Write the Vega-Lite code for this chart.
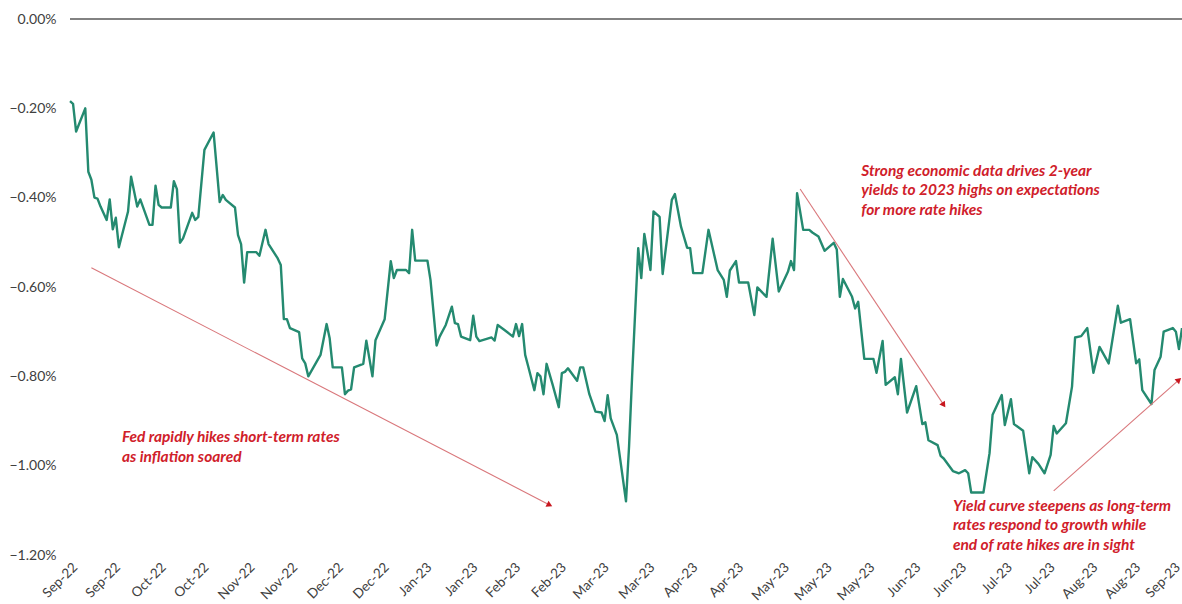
{
  "$schema": "https://vega.github.io/schema/vega-lite/v6.json",
  "width": 1112,
  "height": 536,
  "autosize": {"type": "none"},
  "padding": {"left": 70, "top": 19, "right": 0, "bottom": 49},
  "background": "white",
  "config": {"view": {"stroke": null}},
  "datasets": {
    "series": [
      {"date":"2022-09-12","spread":-0.184},{"date":"2022-09-13","spread":-0.19},{"date":"2022-09-14","spread":-0.252},{"date":"2022-09-17","spread":-0.20},{"date":"2022-09-18","spread":-0.342},{"date":"2022-09-19","spread":-0.36},{"date":"2022-09-20","spread":-0.40},{"date":"2022-09-21","spread":-0.402},{"date":"2022-09-22","spread":-0.42},{"date":"2022-09-24","spread":-0.45},{"date":"2022-09-25","spread":-0.404},{"date":"2022-09-26","spread":-0.471},{"date":"2022-09-27","spread":-0.445},{"date":"2022-09-28","spread":-0.511},
      {"date":"2022-10-01","spread":-0.431},{"date":"2022-10-02","spread":-0.353},{"date":"2022-10-04","spread":-0.42},{"date":"2022-10-05","spread":-0.404},{"date":"2022-10-08","spread":-0.461},{"date":"2022-10-09","spread":-0.461},{"date":"2022-10-10","spread":-0.373},{"date":"2022-10-11","spread":-0.416},{"date":"2022-10-12","spread":-0.422},{"date":"2022-10-15","spread":-0.422},{"date":"2022-10-16","spread":-0.363},{"date":"2022-10-17","spread":-0.381},{"date":"2022-10-18","spread":-0.501},{"date":"2022-10-19","spread":-0.491},{"date":"2022-10-22","spread":-0.434},{"date":"2022-10-23","spread":-0.45},{"date":"2022-10-24","spread":-0.443},{"date":"2022-10-26","spread":-0.293},{"date":"2022-10-29","spread":-0.254},{"date":"2022-10-31","spread":-0.41},
      {"date":"2022-11-01","spread":-0.394},{"date":"2022-11-02","spread":-0.405},{"date":"2022-11-05","spread":-0.422},{"date":"2022-11-06","spread":-0.484},{"date":"2022-11-07","spread":-0.504},{"date":"2022-11-08","spread":-0.59},{"date":"2022-11-09","spread":-0.522},{"date":"2022-11-12","spread":-0.522},{"date":"2022-11-13","spread":-0.53},{"date":"2022-11-15","spread":-0.472},{"date":"2022-11-16","spread":-0.504},{"date":"2022-11-19","spread":-0.536},{"date":"2022-11-20","spread":-0.551},{"date":"2022-11-21","spread":-0.672},{"date":"2022-11-22","spread":-0.672},{"date":"2022-11-23","spread":-0.692},{"date":"2022-11-26","spread":-0.701},{"date":"2022-11-27","spread":-0.76},{"date":"2022-11-28","spread":-0.771},{"date":"2022-11-29","spread":-0.80},
      {"date":"2022-12-03","spread":-0.752},{"date":"2022-12-05","spread":-0.683},{"date":"2022-12-06","spread":-0.715},{"date":"2022-12-07","spread":-0.78},{"date":"2022-12-10","spread":-0.78},{"date":"2022-12-11","spread":-0.84},{"date":"2022-12-12","spread":-0.832},{"date":"2022-12-13","spread":-0.829},{"date":"2022-12-14","spread":-0.78},{"date":"2022-12-17","spread":-0.772},{"date":"2022-12-18","spread":-0.72},{"date":"2022-12-20","spread":-0.80},{"date":"2022-12-21","spread":-0.719},{"date":"2022-12-24","spread":-0.672},{"date":"2022-12-26","spread":-0.542},{"date":"2022-12-27","spread":-0.58},{"date":"2022-12-28","spread":-0.562},{"date":"2022-12-31","spread":-0.562},
      {"date":"2023-01-01","spread":-0.569},{"date":"2023-01-02","spread":-0.472},{"date":"2023-01-03","spread":-0.541},{"date":"2023-01-07","spread":-0.541},{"date":"2023-01-08","spread":-0.584},{"date":"2023-01-10","spread":-0.731},{"date":"2023-01-11","spread":-0.711},{"date":"2023-01-13","spread":-0.685},{"date":"2023-01-15","spread":-0.644},{"date":"2023-01-16","spread":-0.681},{"date":"2023-01-17","spread":-0.683},{"date":"2023-01-18","spread":-0.711},{"date":"2023-01-21","spread":-0.719},{"date":"2023-01-22","spread":-0.664},{"date":"2023-01-23","spread":-0.711},{"date":"2023-01-24","spread":-0.721},{"date":"2023-01-28","spread":-0.713},{"date":"2023-01-29","spread":-0.72},{"date":"2023-01-30","spread":-0.685},{"date":"2023-01-31","spread":-0.69},
      {"date":"2023-02-01","spread":-0.695},{"date":"2023-02-04","spread":-0.711},{"date":"2023-02-05","spread":-0.683},{"date":"2023-02-06","spread":-0.71},{"date":"2023-02-07","spread":-0.683},{"date":"2023-02-08","spread":-0.752},{"date":"2023-02-09","spread":-0.778},{"date":"2023-02-11","spread":-0.831},{"date":"2023-02-12","spread":-0.793},{"date":"2023-02-13","spread":-0.80},{"date":"2023-02-14","spread":-0.84},{"date":"2023-02-15","spread":-0.772},{"date":"2023-02-17","spread":-0.819},{"date":"2023-02-19","spread":-0.869},{"date":"2023-02-20","spread":-0.793},{"date":"2023-02-21","spread":-0.79},{"date":"2023-02-22","spread":-0.782},{"date":"2023-02-25","spread":-0.81},{"date":"2023-02-26","spread":-0.78},{"date":"2023-02-27","spread":-0.78},
      {"date":"2023-03-01","spread":-0.84},{"date":"2023-03-03","spread":-0.879},{"date":"2023-03-05","spread":-0.881},{"date":"2023-03-06","spread":-0.90},{"date":"2023-03-07","spread":-0.842},{"date":"2023-03-08","spread":-0.894},{"date":"2023-03-10","spread":-0.931},{"date":"2023-03-12","spread":-1.03},{"date":"2023-03-13","spread":-1.08},{"date":"2023-03-14","spread":-0.957},{"date":"2023-03-15","spread":-0.80},{"date":"2023-03-17","spread":-0.513},{"date":"2023-03-18","spread":-0.58},{"date":"2023-03-19","spread":-0.481},{"date":"2023-03-21","spread":-0.562},{"date":"2023-03-22","spread":-0.431},{"date":"2023-03-24","spread":-0.443},{"date":"2023-03-25","spread":-0.571},{"date":"2023-03-28","spread":-0.405},{"date":"2023-03-29","spread":-0.392},{"date":"2023-03-31","spread":-0.465},
      {"date":"2023-04-02","spread":-0.512},{"date":"2023-04-03","spread":-0.513},{"date":"2023-04-04","spread":-0.569},{"date":"2023-04-07","spread":-0.569},{"date":"2023-04-09","spread":-0.472},{"date":"2023-04-12","spread":-0.562},{"date":"2023-04-14","spread":-0.584},{"date":"2023-04-15","spread":-0.622},{"date":"2023-04-16","spread":-0.563},{"date":"2023-04-18","spread":-0.542},{"date":"2023-04-19","spread":-0.59},{"date":"2023-04-22","spread":-0.59},{"date":"2023-04-24","spread":-0.663},{"date":"2023-04-25","spread":-0.601},{"date":"2023-04-28","spread":-0.622},{"date":"2023-04-30","spread":-0.492},
      {"date":"2023-05-02","spread":-0.61},{"date":"2023-05-05","spread":-0.566},{"date":"2023-05-06","spread":-0.542},{"date":"2023-05-07","spread":-0.562},{"date":"2023-05-08","spread":-0.39},{"date":"2023-05-10","spread":-0.472},{"date":"2023-05-12","spread":-0.472},{"date":"2023-05-13","spread":-0.478},{"date":"2023-05-15","spread":-0.487},{"date":"2023-05-17","spread":-0.519},{"date":"2023-05-20","spread":-0.501},{"date":"2023-05-21","spread":-0.516},{"date":"2023-05-22","spread":-0.622},{"date":"2023-05-23","spread":-0.582},{"date":"2023-05-26","spread":-0.622},{"date":"2023-05-27","spread":-0.648},{"date":"2023-05-28","spread":-0.633},{"date":"2023-05-30","spread":-0.761},
      {"date":"2023-06-02","spread":-0.761},{"date":"2023-06-03","spread":-0.792},{"date":"2023-06-05","spread":-0.721},{"date":"2023-06-06","spread":-0.819},{"date":"2023-06-09","spread":-0.802},{"date":"2023-06-10","spread":-0.84},{"date":"2023-06-11","spread":-0.761},{"date":"2023-06-13","spread":-0.881},{"date":"2023-06-16","spread":-0.822},{"date":"2023-06-18","spread":-0.907},{"date":"2023-06-19","spread":-0.903},{"date":"2023-06-20","spread":-0.943},{"date":"2023-06-23","spread":-0.954},{"date":"2023-06-24","spread":-0.978},{"date":"2023-06-25","spread":-0.984},{"date":"2023-06-28","spread":-1.012},{"date":"2023-06-30","spread":-1.017},
      {"date":"2023-07-02","spread":-1.01},{"date":"2023-07-03","spread":-1.017},{"date":"2023-07-04","spread":-1.06},{"date":"2023-07-08","spread":-1.06},{"date":"2023-07-10","spread":-0.972},{"date":"2023-07-11","spread":-0.886},{"date":"2023-07-14","spread":-0.842},{"date":"2023-07-15","spread":-0.909},{"date":"2023-07-17","spread":-0.851},{"date":"2023-07-18","spread":-0.907},{"date":"2023-07-21","spread":-0.922},{"date":"2023-07-23","spread":-1.017},{"date":"2023-07-24","spread":-0.981},{"date":"2023-07-26","spread":-0.996},{"date":"2023-07-28","spread":-1.017},{"date":"2023-07-30","spread":-0.976},{"date":"2023-07-31","spread":-0.911},
      {"date":"2023-08-01","spread":-0.928},{"date":"2023-08-04","spread":-0.905},{"date":"2023-08-06","spread":-0.823},{"date":"2023-08-07","spread":-0.713},{"date":"2023-08-09","spread":-0.71},{"date":"2023-08-11","spread":-0.692},{"date":"2023-08-13","spread":-0.792},{"date":"2023-08-15","spread":-0.734},{"date":"2023-08-18","spread":-0.771},{"date":"2023-08-21","spread":-0.642},{"date":"2023-08-22","spread":-0.68},{"date":"2023-08-25","spread":-0.672},{"date":"2023-08-27","spread":-0.771},{"date":"2023-08-28","spread":-0.762},{"date":"2023-08-29","spread":-0.831},
      {"date":"2023-09-01","spread":-0.862},{"date":"2023-09-02","spread":-0.786},{"date":"2023-09-04","spread":-0.756},{"date":"2023-09-05","spread":-0.70},{"date":"2023-09-08","spread":-0.692},{"date":"2023-09-09","spread":-0.70},{"date":"2023-09-10","spread":-0.739},{"date":"2023-09-11","spread":-0.692}
    ],
    "notes": [
      {"date":"2022-09-29","value":-0.921,"label":"Fed rapidly hikes short-term rates\nas inflation soared"},
      {"date":"2023-05-29","value":-0.324,"label":"Strong economic data drives 2-year\nyields to 2023 highs on expectations\nfor more rate hikes"},
      {"date":"2023-06-28","value":-1.074,"label":"Yield curve steepens as long-term\nrates respond  to growth while\nend of rate hikes are in sight"}
    ],
    "arrows": [
      {"arrow":"a1","start":"2022-09-19","from":-0.557,"end":"2023-02-16","to":-1.088},
      {"arrow":"a2","start":"2023-05-09","from":-0.3806,"end":"2023-06-25","to":-0.864},
      {"arrow":"a3","start":"2023-07-31","from":-1.0566,"end":"2023-09-10","to":-0.808}
    ]
  },
  "layer": [
    {
      "data": {"values": [{}]},
      "mark": {"type": "rule", "color": "#595959", "strokeWidth": 1.5},
      "encoding": {"y": {"datum": 0, "type": "quantitative"}}
    },
    {
      "data": {"name": "series"},
      "mark": {"type": "line", "color": "#248a70", "strokeWidth": 2.4, "strokeJoin": "round"},
      "encoding": {
        "x": {
          "field": "date", "type": "temporal",
          "scale": {"type": "utc", "domain": [{"year": 2022, "month": "September", "date": 12, "utc": true}, {"year": 2023, "month": "September", "date": 11, "utc": true}]},
          "axis": {
            "title": null, "grid": false, "domain": false, "ticks": false,
            "values": [
              {"year":2022,"month":"September","date":12,"utc":true},{"year":2022,"month":"September","date":26,"utc":true},
              {"year":2022,"month":"October","date":11,"utc":true},{"year":2022,"month":"October","date":25,"utc":true},
              {"year":2022,"month":"November","date":9,"utc":true},{"year":2022,"month":"November","date":23,"utc":true},
              {"year":2022,"month":"December","date":8,"utc":true},{"year":2022,"month":"December","date":23,"utc":true},
              {"year":2023,"month":"January","date":6,"utc":true},{"year":2023,"month":"January","date":21,"utc":true},
              {"year":2023,"month":"February","date":4,"utc":true},{"year":2023,"month":"February","date":19,"utc":true},
              {"year":2023,"month":"March","date":5,"utc":true},{"year":2023,"month":"March","date":20,"utc":true},
              {"year":2023,"month":"April","date":3,"utc":true},{"year":2023,"month":"April","date":18,"utc":true},
              {"year":2023,"month":"May","date":3,"utc":true},{"year":2023,"month":"May","date":17,"utc":true},{"year":2023,"month":"May","date":31,"utc":true},
              {"year":2023,"month":"June","date":15,"utc":true},{"year":2023,"month":"June","date":30,"utc":true},
              {"year":2023,"month":"July","date":15,"utc":true},{"year":2023,"month":"July","date":29,"utc":true},
              {"year":2023,"month":"August","date":12,"utc":true},{"year":2023,"month":"August","date":26,"utc":true},
              {"year":2023,"month":"September","date":8,"utc":true}
            ],
            "labelExpr": "utcFormat(datum.value, '%b-%y')",
            "labelAngle": -45,
            "labelPadding": 5,
            "labelFont": "Lato",
            "labelFontSize": 13.5,
            "labelColor": "#404040",
            "labelOverlap": false,
            "labelBound": false,
            "labelFlush": false
          }
        },
        "y": {
          "field": "spread", "type": "quantitative",
          "scale": {"domain": [-1.2, 0], "nice": false, "zero": false},
          "axis": {
            "title": null, "grid": false, "domain": false, "ticks": false,
            "values": [-1.2, -1, -0.8, -0.6, -0.4, -0.2, 0],
            "labelExpr": "format(datum.value, '.2f') + '%'",
            "labelPadding": 14,
            "labelFont": "Lato",
            "labelFontSize": 14,
            "labelColor": "#404040"
          }
        }
      }
    },
    {
      "data": {"name": "arrows"},
      "mark": {"type": "rule", "color": "#d9777b", "strokeWidth": 1.1},
      "encoding": {
        "x": {"field": "start", "type": "temporal"},
        "x2": {"field": "end"},
        "y": {"field": "from", "type": "quantitative"},
        "y2": {"field": "to"}
      }
    },
    {
      "data": {"name": "arrows"},
      "transform": [{"filter": "datum.arrow === 'a1'"}],
      "mark": {"type": "point", "shape": "triangle-right", "filled": true, "color": "#c8161e", "size": 45, "angle": 27, "opacity": 1},
      "encoding": {"x": {"field": "end", "type": "temporal"}, "y": {"field": "to", "type": "quantitative"}}
    },
    {
      "data": {"name": "arrows"},
      "transform": [{"filter": "datum.arrow === 'a2'"}],
      "mark": {"type": "point", "shape": "triangle-right", "filled": true, "color": "#c8161e", "size": 45, "angle": 56, "opacity": 1},
      "encoding": {"x": {"field": "end", "type": "temporal"}, "y": {"field": "to", "type": "quantitative"}}
    },
    {
      "data": {"name": "arrows"},
      "transform": [{"filter": "datum.arrow === 'a3'"}],
      "mark": {"type": "point", "shape": "triangle-right", "filled": true, "color": "#c8161e", "size": 45, "angle": -42, "opacity": 1},
      "encoding": {"x": {"field": "end", "type": "temporal"}, "y": {"field": "to", "type": "quantitative"}}
    },
    {
      "data": {"name": "notes"},
      "mark": {"type": "text", "align": "left", "baseline": "top", "lineBreak": "\n", "lineHeight": 19.5, "font": "Lato", "fontSize": 15.5, "fontStyle": "italic", "fontWeight": "bold", "color": "#d0202a"},
      "encoding": {
        "x": {"field": "date", "type": "temporal"},
        "y": {"field": "value", "type": "quantitative"},
        "text": {"field": "label"}
      }
    }
  ]
}
